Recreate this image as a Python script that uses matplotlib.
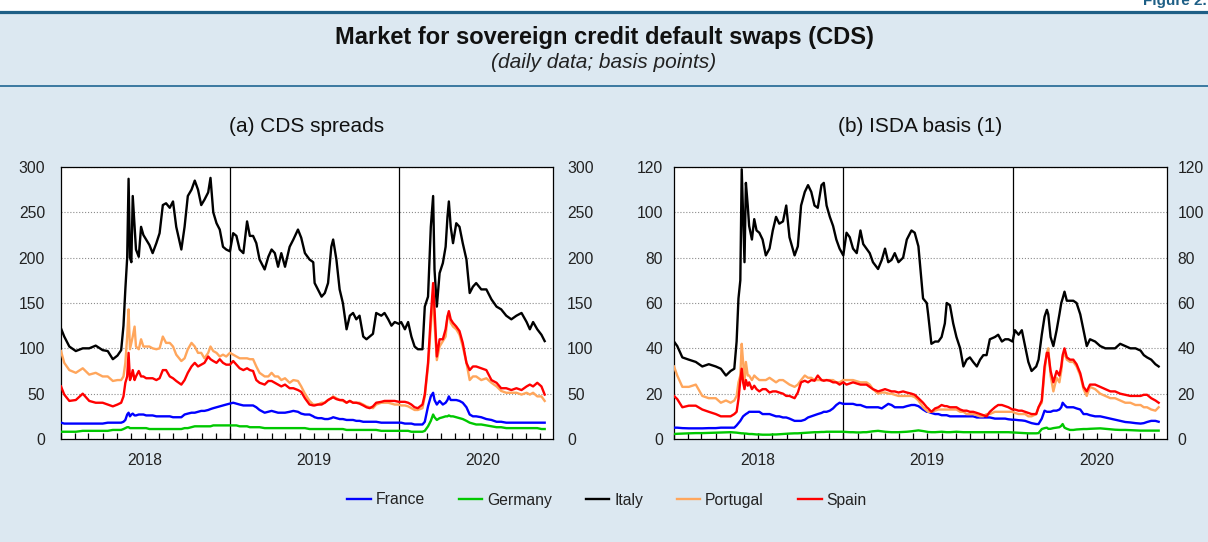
import numpy as np
import pandas as pd
import matplotlib
matplotlib.use("Agg")
import matplotlib.pyplot as plt
import matplotlib.dates as mdates
from matplotlib.lines import Line2D
from matplotlib.patches import Rectangle
from matplotlib.transforms import ScaledTranslation

plt.rcParams['font.family'] = ['Liberation Sans', 'DejaVu Sans']

# sampled dates (denser around the May 2018 and March 2020 spikes)
dates = pd.to_datetime([
    "2018-01-01", "2018-01-08", "2018-01-19", "2018-02-02", "2018-02-17", "2018-03-03", "2018-03-17", "2018-04-01", "2018-04-12", "2018-04-23",
    "2018-05-03", "2018-05-11", "2018-05-16", "2018-05-20", "2018-05-24", "2018-05-27", "2018-05-30", "2018-06-02", "2018-06-05", "2018-06-09",
    "2018-06-12", "2018-06-18", "2018-06-23", "2018-06-28", "2018-07-04", "2018-07-11", "2018-07-18", "2018-07-26", "2018-08-02", "2018-08-09",
    "2018-08-16", "2018-08-24", "2018-08-31", "2018-09-07", "2018-09-18", "2018-09-25", "2018-10-02", "2018-10-10", "2018-10-17", "2018-10-24",
    "2018-10-31", "2018-11-07", "2018-11-15", "2018-11-20", "2018-11-26", "2018-12-03", "2018-12-10", "2018-12-17", "2018-12-24",
    "2019-01-01", "2019-01-08", "2019-01-15", "2019-01-22", "2019-01-30", "2019-02-07", "2019-02-13", "2019-02-20", "2019-02-27", "2019-03-06",
    "2019-03-17", "2019-03-25", "2019-04-01", "2019-04-08", "2019-04-15", "2019-04-22", "2019-04-30", "2019-05-10", "2019-05-18", "2019-05-28",
    "2019-06-04", "2019-06-12", "2019-06-22", "2019-06-30", "2019-07-03", "2019-07-10", "2019-07-18", "2019-07-25", "2019-08-01", "2019-08-08",
    "2019-08-12", "2019-08-19", "2019-08-26", "2019-09-02", "2019-09-10", "2019-09-17", "2019-09-24", "2019-10-01", "2019-10-08", "2019-10-16",
    "2019-10-23", "2019-10-30", "2019-11-06", "2019-11-13", "2019-11-24", "2019-12-01", "2019-12-09", "2019-12-16", "2019-12-23",
    "2020-01-01", "2020-01-06", "2020-01-14", "2020-01-21", "2020-01-28", "2020-02-04", "2020-02-11", "2020-02-21", "2020-02-26", "2020-03-04",
    "2020-03-10", "2020-03-15", "2020-03-18", "2020-03-23", "2020-03-29", "2020-04-05", "2020-04-11", "2020-04-15", "2020-04-18", "2020-04-22",
    "2020-04-27", "2020-05-04", "2020-05-11", "2020-05-18", "2020-05-26", "2020-06-02", "2020-06-09", "2020-06-16", "2020-06-27", "2020-07-08",
    "2020-07-19", "2020-07-30", "2020-08-09", "2020-08-20", "2020-08-31", "2020-09-11", "2020-09-22", "2020-10-03", "2020-10-10", "2020-10-17",
    "2020-10-26", "2020-11-04", "2020-11-11",
])

countries = ["France", "Germany", "Italy", "Portugal", "Spain"]
colors = ["#0000ff", "#00c800", "#000000", "#ffa65c", "#ff0000"]

# (a) CDS spreads
cds_france = [
    18, 17, 17, 17, 17, 17, 17, 17, 18, 18, 18, 18, 19, 21, 27, 29, 25, 27, 28, 26,
    26, 27, 27, 27, 26, 26, 26, 25, 25, 25, 25, 25, 24, 24, 24, 27, 28, 29, 29, 30,
    31, 31, 32, 33, 34, 35, 36, 37, 38,
    39, 40, 39, 38, 37, 37, 37, 37, 35, 32, 29, 30, 31, 30, 29, 29, 29, 30, 31, 30,
    28, 27, 27, 25, 24, 23, 23, 22, 22, 23, 24, 23, 22, 22, 21, 21, 21, 20, 20, 19,
    19, 19, 19, 19, 18, 18, 18, 18, 18,
    18, 18, 17, 17, 17, 16, 16, 16, 19, 36, 47, 51, 43, 38, 42, 38, 40, 43, 47, 43,
    43, 43, 42, 40, 35, 27, 25, 25, 24, 22, 21, 19, 19, 18, 18, 18, 18, 18, 18, 18,
    18, 18, 18,
]
cds_germany = [
    8, 8, 8, 8, 9, 9, 9, 9, 9, 10, 10, 10, 11, 12, 13, 13, 12, 12, 12, 12,
    12, 12, 12, 12, 12, 11, 11, 11, 11, 11, 11, 11, 11, 11, 11, 12, 12, 13, 14, 14,
    14, 14, 14, 14, 15, 15, 15, 15, 15,
    15, 15, 15, 14, 14, 14, 13, 13, 13, 13, 12, 12, 12, 12, 12, 12, 12, 12, 12, 12,
    12, 12, 11, 11, 11, 11, 11, 11, 11, 11, 11, 11, 11, 11, 10, 10, 10, 10, 10, 10,
    10, 10, 10, 10, 9, 9, 9, 9, 9,
    9, 9, 9, 9, 8, 8, 8, 8, 9, 14, 20, 27, 24, 21, 23, 24, 25, 25, 26, 25,
    25, 24, 23, 22, 20, 18, 17, 16, 16, 15, 14, 13, 13, 12, 12, 12, 12, 12, 12, 12,
    12, 11, 11,
]
cds_italy = [
    122, 113, 102, 97, 100, 100, 103, 98, 97, 88, 92, 98, 125, 165, 200, 287, 200, 195, 268, 234,
    209, 201, 234, 225, 220, 214, 205, 216, 227, 258, 260, 255, 262, 234, 209, 234, 268, 275, 285, 275,
    258, 264, 272, 288, 250, 238, 231, 212, 209,
    207, 227, 224, 209, 205, 240, 224, 224, 216, 198, 187, 201, 209, 205, 190, 205, 190, 212, 220, 231,
    222, 205, 198, 195, 172, 165, 157, 161, 172, 212, 220, 198, 165, 150, 121, 136, 139, 132, 136, 113,
    110, 113, 116, 139, 136, 139, 132, 125, 129,
    127, 129, 121, 129, 113, 102, 99, 99, 146, 157, 234, 268, 187, 146, 183, 194, 212, 245, 262, 234,
    216, 238, 234, 216, 198, 161, 168, 172, 165, 165, 154, 146, 143, 136, 132, 136, 139, 129, 121, 129,
    121, 115, 108,
]
cds_portugal = [
    97, 84, 76, 73, 78, 71, 73, 69, 69, 64, 65, 65, 69, 84, 113, 143, 99, 106, 113, 124,
    102, 99, 110, 102, 102, 102, 100, 99, 100, 113, 106, 106, 102, 93, 86, 89, 99, 106, 102, 95,
    95, 89, 95, 102, 97, 95, 91, 93, 91,
    95, 93, 91, 89, 89, 89, 88, 88, 80, 73, 69, 69, 73, 69, 69, 65, 67, 62, 65, 64,
    58, 50, 42, 38, 38, 38, 40, 40, 43, 45, 47, 45, 43, 42, 40, 42, 40, 40, 40, 38,
    36, 35, 34, 38, 40, 40, 40, 39, 38,
    38, 37, 37, 36, 34, 32, 32, 34, 47, 80, 124, 160, 128, 87, 102, 108, 113, 135, 139, 128,
    124, 121, 115, 102, 84, 65, 69, 69, 65, 67, 62, 58, 53, 51, 51, 51, 49, 51, 49, 51,
    47, 47, 42,
]
cds_spain = [
    58, 49, 42, 43, 50, 42, 40, 40, 38, 36, 38, 40, 47, 62, 69, 95, 65, 69, 76, 65,
    69, 75, 69, 69, 67, 67, 67, 65, 67, 76, 76, 69, 67, 64, 60, 65, 73, 80, 84, 80,
    82, 84, 91, 88, 86, 84, 88, 84, 82,
    82, 86, 82, 78, 76, 78, 76, 75, 65, 62, 60, 64, 64, 62, 60, 58, 60, 56, 56, 54,
    52, 45, 38, 37, 37, 38, 38, 40, 43, 45, 46, 44, 43, 43, 40, 42, 40, 40, 39, 37,
    35, 34, 36, 40, 41, 42, 42, 42, 42,
    41, 41, 41, 40, 38, 35, 34, 38, 49, 84, 135, 172, 143, 91, 110, 110, 121, 135, 141, 132,
    128, 124, 119, 106, 84, 76, 80, 80, 78, 76, 65, 62, 56, 56, 54, 56, 54, 58, 60, 58,
    62, 58, 49,
]

# (b) ISDA basis
isda_france = [
    5, 5, 4.8, 4.7, 4.7, 4.7, 4.8, 4.8, 5, 5, 5, 5, 6, 7, 8, 9, 10, 10.5, 11, 11.5,
    12, 12, 12, 12, 12, 11, 11, 11, 10.5, 10, 10, 9.5, 9.5, 9, 8, 8, 8, 8.5, 9.5, 10,
    10.5, 11, 11.5, 12, 12, 12.5, 13.5, 15, 16,
    15.5, 15.5, 15.5, 15.5, 15, 15, 14.5, 14, 14, 14, 14, 13.5, 14.5, 15.5, 15, 14, 14, 14, 14.5, 15,
    15, 14.5, 13, 12, 12, 11.5, 11, 11, 10.5, 10.5, 10.5, 10, 10, 10, 10, 10, 10, 10, 10, 9.5,
    9.5, 9.5, 9.5, 9.5, 9, 9, 9, 9, 8.7,
    8.5, 8.5, 8.3, 8.2, 8, 7.5, 7, 6.6, 6.6, 9, 12.5, 12, 12, 12, 12.5, 12.5, 13, 14, 16, 15,
    14, 14, 14, 13.5, 13, 11, 11, 10.5, 10, 10, 9.5, 9, 8.5, 8, 7.5, 7.3, 7, 6.8, 7, 7.5,
    8, 8, 7.6,
]
isda_germany = [
    2.2, 2.3, 2.4, 2.5, 2.6, 2.6, 2.7, 2.8, 2.9, 3, 3, 2.9, 2.8, 2.7, 2.6, 2.5, 2.5, 2.4, 2.4, 2.3,
    2.2, 2.2, 2.1, 2, 2, 1.9, 1.9, 1.9, 2, 2, 2.1, 2.2, 2.3, 2.4, 2.5, 2.5, 2.6, 2.7, 2.8, 2.9,
    3, 3, 3.1, 3.1, 3.2, 3.2, 3.2, 3.2, 3.2,
    3.2, 3.1, 3, 3, 2.9, 2.9, 3, 3, 3.2, 3.4, 3.6, 3.4, 3.2, 3.1, 3, 3, 3, 3.1, 3.2, 3.4,
    3.6, 3.8, 3.5, 3.2, 3.1, 3, 3, 3.1, 3.2, 3.1, 3, 3, 3.1, 3.2, 3.1, 3, 3, 3, 3, 3,
    3, 3, 3, 3, 3, 3, 3, 3, 3,
    2.9, 2.8, 2.8, 2.7, 2.6, 2.5, 2.5, 2.5, 2.6, 4.4, 4.8, 5, 4.5, 4.5, 4.8, 5, 5.2, 5.8, 6.6, 5,
    4.5, 4, 4, 4.2, 4.3, 4.4, 4.4, 4.5, 4.6, 4.7, 4.5, 4.3, 4.1, 4, 4, 3.9, 3.8, 3.7, 3.7, 3.7,
    3.7, 3.7, 3.7,
]
isda_italy = [
    43, 41, 36, 35, 34, 32, 33, 32, 31, 28, 30, 31, 43, 62, 70, 119, 98, 78, 113, 103,
    94, 88, 97, 92, 91, 88, 81, 84, 92, 98, 95, 96, 103, 89, 81, 85, 103, 109, 112, 109,
    103, 102, 112, 113, 103, 98, 94, 88, 84,
    81, 91, 89, 84, 82, 92, 86, 84, 82, 78, 75, 79, 84, 78, 79, 82, 78, 80, 88, 92,
    91, 85, 62, 60, 55, 42, 43, 43, 45, 51, 60, 59, 51, 45, 40, 32, 35, 36, 34, 32,
    35, 37, 37, 44, 45, 46, 43, 44, 44,
    43, 48, 46, 48, 41, 34, 30, 32, 35, 46, 54, 57, 55, 45, 41, 48, 55, 60, 62, 65,
    61, 61, 61, 60, 55, 48, 41, 44, 43, 41, 40, 40, 40, 42, 41, 40, 40, 39, 37, 36,
    35, 33, 32,
]
isda_portugal = [
    32, 28, 23, 23, 24, 19, 18, 18, 16, 17, 16, 17, 19, 25, 28, 42, 34, 25, 34, 28,
    28, 26, 28, 27, 26, 26, 26, 27, 26, 25, 26, 26, 25, 24, 23, 24, 26, 28, 27, 27,
    26, 26, 26, 26, 26, 26, 26, 25, 25,
    26, 26, 26, 26, 25.5, 25, 25, 25, 24, 22, 20, 20.5, 20.5, 20, 20, 19.5, 19, 19, 19, 19,
    18.5, 17, 14, 12.5, 12, 12, 12.5, 13, 13, 13, 13, 13, 13, 13, 12, 12, 11, 11, 11, 10.5,
    10, 10, 11, 11, 12, 12, 12, 12, 12,
    12, 11.5, 11, 11, 11, 10, 10, 11, 14, 16, 30, 38, 40, 28, 21, 27, 25, 30, 36, 38,
    35, 34, 34, 32, 28, 22, 19, 23, 22, 20, 19, 18, 18, 17, 16, 16, 15, 15, 14, 14,
    13, 12.5, 14,
]
isda_spain = [
    19, 17.6, 14, 14.7, 14.7, 13, 12, 11, 10, 10, 10, 11, 12, 17.6, 26, 31, 25, 22, 26, 23.5,
    25, 22, 23.5, 22, 21, 22, 22, 20.5, 21, 21, 20.5, 20, 19, 19, 18, 20.5, 25, 25.7, 25, 26,
    25.7, 28, 26, 25.7, 26, 25.7, 25, 25, 24,
    25, 24, 24.5, 25, 24.5, 24, 24, 24, 23, 22, 21, 21.5, 22, 21.5, 21, 21, 20.5, 21, 20.5, 20,
    19.5, 18, 16, 14, 13.5, 12, 13.5, 14, 15, 14.5, 14.5, 14, 14, 14, 13, 12.5, 12.5, 12, 12, 11.5,
    11, 10.5, 10, 12, 14, 15, 15, 14.5, 14,
    13, 13, 12.5, 12.5, 12, 11.5, 11, 11, 14, 17, 32, 38, 38, 30, 25, 30, 28, 32, 37, 40,
    36, 35, 35, 33, 29, 23, 21, 24, 24, 23, 22, 21, 21, 20, 19.5, 19, 19, 19, 19.5, 19.5,
    18, 17, 16,
]

BG = "#dce8f1"
W, H = 1208.0, 542.0


def fx(px):
    return px / W


def fy(px):
    return 1 - px / H


fig = plt.figure(figsize=(W / 100, H / 100), dpi=100, facecolor=BG)

# header band
fig.patches.append(Rectangle((0, fy(11)), 1, 11 / H, transform=fig.transFigure,
                             facecolor="white", edgecolor="none", zorder=0))
fig.add_artist(Line2D([0, 1], [fy(12.3)] * 2, transform=fig.transFigure, color="#1e5f86", lw=2.3))
fig.add_artist(Line2D([0, 1], [fy(86)] * 2, transform=fig.transFigure, color="#3a78a0", lw=1.4))
fig.text(0.999, fy(5.5), "Figure 2.", ha="right", va="baseline", fontsize=11,
         fontweight="bold", color="#1e5f86")
fig.text(0.5, fy(38), "Market for sovereign credit default swaps (CDS)", ha="center",
         va="center", fontsize=17, fontweight="bold", color="#111111")
fig.text(0.5, fy(63), "(daily data; basis points)", ha="center", va="center",
         fontsize=15, style="italic", color="#222222")

x_start = pd.Timestamp("2018-01-01")
x_end = pd.Timestamp("2020-11-29")


def panel(left_px, width_px, series, top, step, title, pad_left, pad_right):
    ax = fig.add_axes([fx(left_px), fy(439), fx(width_px), 272 / H])
    ax.set_facecolor("white")
    for name, color, ys in zip(countries, colors, series):
        ax.plot(dates, ys, color=color, lw=1.7, label=name, zorder=3)
    ax.set_xlim(x_start, x_end)
    ax.set_ylim(0, top)
    ax.set_yticks(np.arange(0, top + 1, step))
    ax.set_axisbelow(True)
    ax.yaxis.grid(True, linestyle=":", color="#8c8c8c", lw=0.8)
    ax.tick_params(axis="y", length=0, labelleft=True, labelright=True, pad=pad_left,
                   labelsize=11.3, labelcolor="#222222")
    # right-hand labels sit a little closer to the frame than the left ones
    off = ScaledTranslation((pad_right - pad_left) / 72, 0, fig.dpi_scale_trans)
    for tick in ax.yaxis.get_major_ticks():
        tick.label2.set_transform(tick.label2.get_transform() + off)

    ax.xaxis.set_major_locator(mdates.MonthLocator(bymonth=7, bymonthday=1))
    ax.xaxis.set_major_formatter(mdates.DateFormatter("%Y"))
    ax.xaxis.set_minor_locator(mdates.MonthLocator())
    ax.xaxis.remove_overlapping_locs = False
    ax.tick_params(axis="x", which="major", length=0, pad=10, labelsize=11.3,
                   labelcolor="#222222")
    ax.tick_params(axis="x", which="minor", direction="in", length=4, width=0.9)
    for yr in ["2019-01-01", "2020-01-01"]:
        ax.axvline(pd.Timestamp(yr), color="black", lw=0.9, zorder=2)
    for s in ax.spines.values():
        s.set_linewidth(0.9)
    fig.text(fx(left_px + width_px / 2), fy(126), title, ha="center", va="center",
             fontsize=15, color="#111111")
    return ax


ax1 = panel(61, 492, [cds_france, cds_germany, cds_italy, cds_portugal, cds_spain],
            300, 50, "(a) CDS spreads", 11.5, 10)
ax2 = panel(674, 493, [isda_france, isda_germany, isda_italy, isda_portugal, isda_spain],
            120, 20, "(b) ISDA basis (1)", 8, 7.5)

handles, labels = ax1.get_legend_handles_labels()
leg = fig.legend(handles, labels, loc="center", bbox_to_anchor=(fx(607), fy(500)), ncol=5,
                 frameon=False, fontsize=11.3, handlelength=1.47, handletextpad=0.3,
                 columnspacing=2.2)
for t in leg.get_texts():
    t.set_color("#222222")

fig.savefig("out.png", dpi=100, facecolor=BG)
